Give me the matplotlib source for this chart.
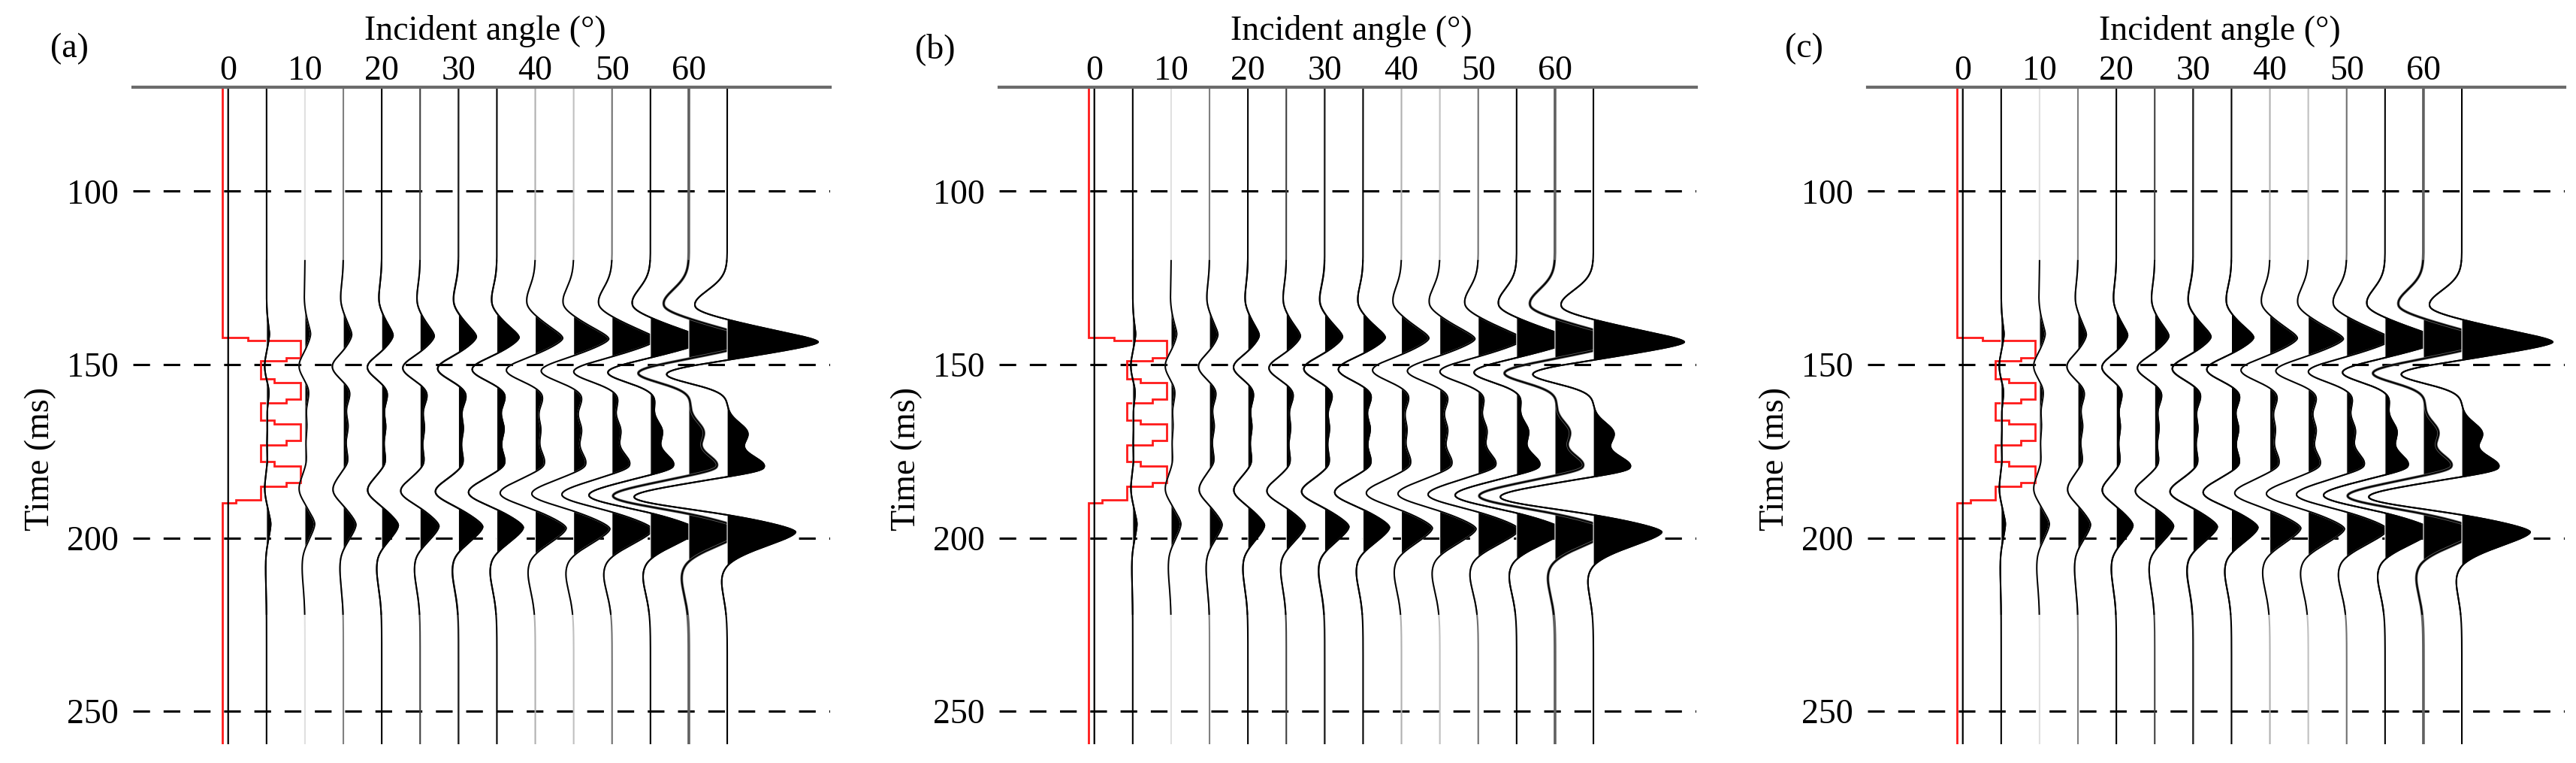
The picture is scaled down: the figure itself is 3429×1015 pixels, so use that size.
import numpy as np
import matplotlib
matplotlib.use("Agg")
import matplotlib.pyplot as plt

plt.rcParams['font.family'] = ['Liberation Serif', 'DejaVu Serif']
plt.rcParams['lines.scale_dashes'] = False

# ---------------- data ----------------
panel_labels = ['(a)', '(b)', '(c)']
angles = [0, 5, 10, 15, 20, 25, 30, 35, 40, 45, 50, 55, 60, 65]
angle_ticks = [0, 10, 20, 30, 40, 50, 60]
time_ticks = [100, 150, 200, 250]

# reflection events (ms) and per-trace deflection (in degree units of the plot)
event_times = [133.0, 143.2, 152.3, 160.0, 169.5, 179.5, 188.0, 198.0, 208.0]
trace_time_shift = [0, -2.0, -2.0, -1.8, -1.6, -1.4, -1.2, -1.0, -0.8, -0.6, -0.4, -0.2, 0.0, 0.3]

amp_T1 = [0, 0.0, -0.1, -0.37, -0.4, -0.45, -0.7, -0.75, -1.2, -1.5, -1.9, -2.55, -3.5, -4.5]
amp_P1 = [0, 0.37, 0.74, 1.1, 1.48, 1.85, 2.33, 2.9, 3.6, 4.6, 5.8, 7.2, 9.2, 11.9]
amp_T2 = [0, -0.26, -0.8, -1.48, -1.93, -2.33, -2.8, -3.33, -3.9, -4.4, -5.2, -5.8, -6.9, -8.3]
amp_M1 = [0, 0.3, 0.5, 0.85, 0.75, 0.93, 1.0, 1.1, 1.0, 1.1, 0.8, 0.6, 0.2, 0.0]
amp_M2 = [0, 0.1, 0.25, 0.6, 0.5, 0.55, 0.6, 0.9, 0.7, 1.0, 1.1, 1.5, 1.9, 2.6]
amp_M3 = [0, 0.1, 0.2, 0.6, 0.5, 0.55, 0.65, 1.1, 1.3, 1.7, 2.45, 3.2, 3.9, 5.1]
amp_T3 = [0, -0.25, -0.8, -1.4, -1.9, -2.6, -3.1, -3.8, -4.7, -5.6, -6.7, -8.2, -10.1, -12.4]
amp_P2 = [0, 0.55, 1.3, 1.67, 2.2, 2.5, 3.2, 3.5, 4.1, 4.8, 5.4, 6.2, 7.3, 9.0]
amp_T4 = [0, -0.15, -0.45, -0.55, -0.8, -0.9, -1.0, -1.1, -1.2, -1.3, -1.4, -1.3, -1.3, -1.1]

# red blocky log (layer boundaries in ms, plotted position in degree units)
red_times = [70.0, 142.2, 143.0, 148.0, 149.0, 154.1, 155.3, 160.0, 161.1, 166.0, 167.2,
             172.0, 173.1, 178.0, 179.2, 184.0, 185.1, 189.1, 190.0, 259.5]
red_values = [-0.8, 2.6, 9.4, 7.6, 4.2, 6.0, 9.4, 7.6, 4.2, 6.0, 9.4, 7.6, 4.2, 6.0,
              9.4, 7.6, 4.2, 1.0, -0.8]

# ---------------- styles ----------------
event_shapes = [  # (sigma_left, sigma_right, power)
    (4.5, 3.0, 2.0), (3.0, 2.8, 1.6), (2.8, 2.8, 2.0), (2.5, 3.0, 2.0), (3.0, 3.0, 2.0),
    (3.5, 2.0, 2.0), (3.2, 3.0, 2.0), (3.0, 4.0, 1.6), (4.0, 7.0, 2.0)]
trace_colors = ['black', 'black', '#e0e0e0', '#808080', 'black', '#404040', '#202020',
                'black', '#b0b0b0', '#c0c0c0', '#707070', 'black', '#606060', 'black']
trace_widths = [1.6, 1.5, 1.5, 1.5, 1.5, 1.5, 1.7, 1.5, 1.5, 1.5, 1.5, 1.5, 2.6, 1.5]
FS = 33

W, H = 3430, 1015
fig = plt.figure(figsize=(W / 100, H / 100), dpi=100)
ax_lefts_px = [177, 1330, 2486]
ax_w_px = 928
ax_top_px, ax_bot_px = 116, 990

amps = [amp_T1, amp_P1, amp_T2, amp_M1, amp_M2, amp_M3, amp_T3, amp_P2, amp_T4]
tt = np.linspace(70, 259.5, 3000)


def pulse(t, t0, sl, sr, p):
    d = t - t0
    s = np.where(d < 0, sl, sr)
    return np.exp(-0.5 * np.abs(d / s) ** p)


for k, left in enumerate(ax_lefts_px):
    ax = fig.add_axes([left / W, 1 - ax_bot_px / H, ax_w_px / W, (ax_bot_px - ax_top_px) / H])
    ax.set_xlim(-12.4, 78.4)
    ax.set_ylim(259.5, 70)

    for yv in time_ticks:
        ax.axhline(yv, color='black', lw=2.2, dashes=(16, 13), zorder=0.5)

    # red log
    rx = np.repeat(red_values, 2)
    ry = np.concatenate([[red_times[0]], np.repeat(red_times[1:-1], 2), [red_times[-1]]])
    ax.plot(rx, ry, color='#ff1a1a', lw=2.0, zorder=1.5, solid_joinstyle='miter')

    for i, ang in enumerate(angles):
        sig = np.zeros_like(tt)
        for e in range(len(event_times)):
            sl, sr, p = event_shapes[e]
            sig += amps[e][i] * pulse(tt, event_times[e] + trace_time_shift[i], sl, sr, p)
        x = ang + sig
        z = 2 + i * 0.1
        if np.any(sig > 0):
            ax.fill_betweenx(tt, ang, x, where=sig > 0, interpolate=True,
                             facecolor='black', edgecolor='white', lw=0.8, zorder=z)
        ax.plot(x, tt, color=trace_colors[i], lw=trace_widths[i], zorder=z + 0.02)
        if i > 0:
            xb = np.where((tt >= 120) & (tt <= 222), x, np.nan)
            ax.plot(xb, tt, color='black', lw=1.4, zorder=z + 0.03)

    # axes styling
    for s in ['left', 'right', 'bottom']:
        ax.spines[s].set_visible(False)
    ax.spines['top'].set_color('#6b6b6b')
    ax.spines['top'].set_linewidth(3.0)
    ax.spines['top'].set_zorder(10)
    ax.xaxis.tick_top()
    ax.set_xticks(angle_ticks)
    ax.set_xticklabels([str(a) for a in angle_ticks])
    ax.set_yticks(time_ticks)
    ax.set_yticklabels([str(v) for v in time_ticks])
    ax.tick_params(axis='x', length=0, pad=0, labelsize=FS)
    ax.tick_params(axis='y', length=0, pad=14, labelsize=FS)

    ax.text(0.505, 1.085, 'Incident angle (°)', transform=ax.transAxes,
            ha='center', va='center', fontsize=FS)
    ax.text(-0.1325, 0.434, 'Time (ms)', transform=ax.transAxes, rotation=90,
            ha='center', va='center', fontsize=FS)
    ax.text(-0.0916, 1.058, panel_labels[k], transform=ax.transAxes,
            ha='center', va='center', fontsize=FS)

fig.savefig('out.png', dpi=100, facecolor='white')
